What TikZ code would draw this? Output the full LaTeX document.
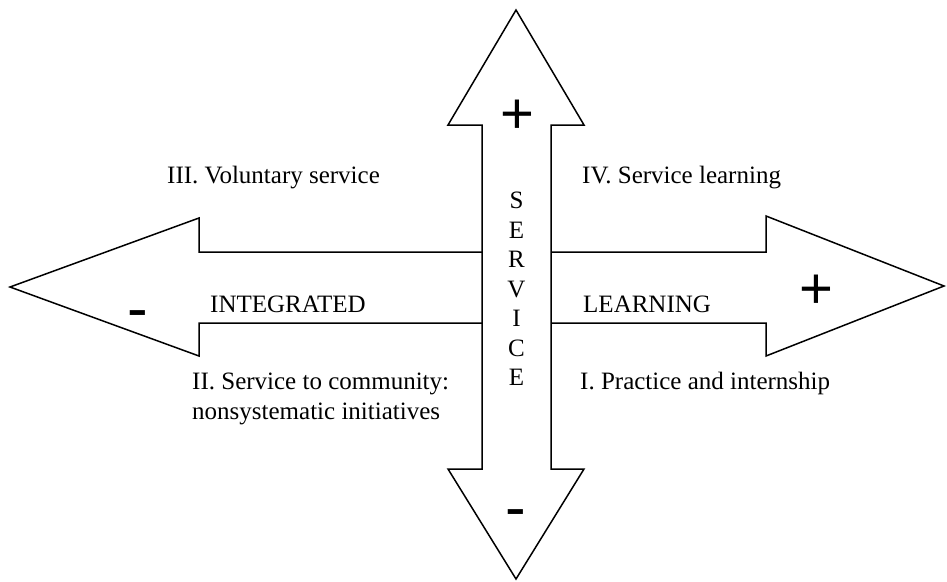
\documentclass[tikz,border=0pt]{standalone}
\usepackage{fontspec}
\setmainfont{Liberation Serif}
\newfontfamily\signfont{Liberation Sans}
\begin{document}
\begin{tikzpicture}[x=1pt,y=-1pt,
  arrowshape/.style={draw=black,fill=white,line width=1.5pt,line join=miter},
  lbl/.style={anchor=base west,inner sep=0pt,font=\fontsize{25}{30}\selectfont},
  letter/.style={anchor=base,inner sep=0pt,font=\fontsize{25}{30}\selectfont},
  plussign/.style={inner sep=0pt,font=\signfont\fontsize{58}{62}\selectfont},
  minussign/.style={inner sep=0pt,font=\signfont\fontsize{62}{66}\selectfont}]
\useasboundingbox (0,0) rectangle (947,581);
% horizontal double arrow
\draw[arrowshape] (10,287) -- (199,218) -- (199,252) -- (766,252) -- (766,216)
  -- (944,286) -- (766,356) -- (766,323) -- (199,323) -- (199,356) -- cycle;
% vertical double arrow
\draw[arrowshape] (516,10) -- (584,125) -- (551,125) -- (551,469) -- (584,469)
  -- (516,579) -- (448,469) -- (482,469) -- (482,125) -- (448,125) -- cycle;
% quadrant labels
\node[lbl] (q3) at (167,183) {III. Voluntary service};
\node[lbl] (q4) at (582,183) {IV. Service learning};
\node[lbl] (q2) at (192,389) {II. Service to community:};
\node[lbl] (q2b) at (192,419) {nonsystematic initiatives};
\node[lbl] (q1) at (580,389) {I. Practice and internship};
\node[lbl] (integ) at (210,312) {INTEGRATED};
\node[lbl] (learn) at (583,312) {LEARNING};
% SERVICE
\node[letter] (s1) at (516.5,208.5) {S};
\node[letter] (s2) at (516.5,238) {E};
\node[letter] (s3) at (516.5,267.5) {R};
\node[letter] (s4) at (516.5,297) {V};
\node[letter] (s5) at (516.5,326.5) {I};
\node[letter] (s6) at (516.5,356) {C};
\node[letter] (s7) at (516.5,385.5) {E};
% signs
\node[plussign] (ptop) at (517,117) {+};
\node[plussign] (pright) at (816,292) {+};
\node[minussign] (mleft) at (138,320.5) {-};
\node[minussign] (mbot) at (516,519.5) {-};
\end{tikzpicture}
\end{document}
